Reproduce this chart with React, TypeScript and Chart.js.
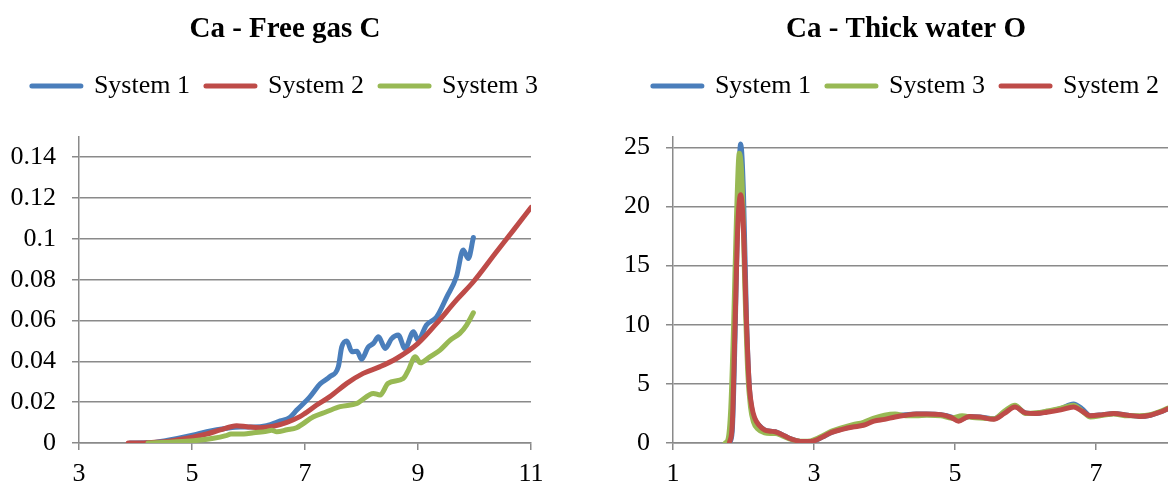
import React, { useEffect, useRef } from 'react';
import { Chart, registerables } from 'chart.js';

Chart.register(...registerables);

// ---------- Left chart: Ca - Free gas C ----------
const leftTitle = 'Ca - Free gas C';
const leftLabels = ['System 1', 'System 2', 'System 3'];
const leftXTicks = [3, 5, 7, 9, 11];
const leftYTicks = [0, 0.02, 0.04, 0.06, 0.08, 0.1, 0.12, 0.14];

const leftS1X = [3.9, 4.3, 4.55, 5.03, 5.26, 5.62, 5.85, 6.09, 6.32, 6.56, 6.73, 6.85, 7.09, 7.27, 7.44, 7.59, 7.65, 7.74, 7.83, 7.92, 8.0, 8.12, 8.21, 8.3, 8.42, 8.53, 8.65, 8.77, 8.92, 9.0, 9.15, 9.33, 9.51, 9.68, 9.8, 9.89, 9.98];
const leftS1Y = [0, 0.0002, 0.0012, 0.0039, 0.0055, 0.0072, 0.0078, 0.0078, 0.0085, 0.0108, 0.0125, 0.016, 0.0227, 0.029, 0.0325, 0.0374, 0.047, 0.05, 0.0447, 0.045, 0.041, 0.047, 0.0488, 0.052, 0.0463, 0.051, 0.0529, 0.0463, 0.0545, 0.0504, 0.0578, 0.0618, 0.0716, 0.0814, 0.0945, 0.0904, 0.1007];

const leftS2X = [3.87, 4.1, 4.25, 4.55, 4.91, 5.26, 5.5, 5.79, 5.97, 6.2, 6.44, 6.68, 6.91, 7.0, 7.2, 7.44, 7.74, 8.03, 8.33, 8.62, 9.0, 9.33, 9.68, 9.98, 10.39, 10.69, 11.0];
const leftS2Y = [0, 0, 0.0002, 0.0007, 0.0023, 0.0044, 0.0064, 0.0085, 0.008, 0.0075, 0.0082, 0.0101, 0.0129, 0.0145, 0.0185, 0.0227, 0.0292, 0.0341, 0.0374, 0.0414, 0.0488, 0.0586, 0.07, 0.079, 0.0937, 0.1043, 0.1154];

const leftS3X = [4.22, 4.67, 5.03, 5.38, 5.6, 5.69, 5.92, 6.09, 6.32, 6.41, 6.5, 6.68, 6.85, 7.15, 7.38, 7.62, 7.92, 8.21, 8.33, 8.47, 8.74, 8.83, 8.95, 9.04, 9.21, 9.39, 9.57, 9.74, 9.86, 9.98];
const leftS3Y = [0, 0.0005, 0.0011, 0.0023, 0.0036, 0.0044, 0.0044, 0.005, 0.0057, 0.0062, 0.0055, 0.0065, 0.0075, 0.0129, 0.0153, 0.0178, 0.0194, 0.0243, 0.0235, 0.0292, 0.0316, 0.0357, 0.0422, 0.0393, 0.0422, 0.0455, 0.0504, 0.0537, 0.0578, 0.0638];

// ---------- Right chart: Ca - Thick water O ----------
const rightTitle = 'Ca - Thick water O';
const rightLabels = ['System 1', 'System 3', 'System 2'];
const rightXTicks = [1, 3, 5, 7];
const rightYTicks = [0, 5, 10, 15, 20, 25];

const rightS1X = [1.8, 1.84, 1.88, 1.92, 1.96, 2.0, 2.04, 2.08, 2.12, 2.16, 2.22, 2.3, 2.38, 2.45, 2.55, 2.65, 2.75, 2.85, 2.95, 3.05, 3.15, 3.25, 3.4, 3.55, 3.7, 3.85, 4.0, 4.15, 4.3, 4.45, 4.6, 4.8, 4.95, 5.05, 5.2, 5.35, 5.55, 5.7, 5.85, 6.0, 6.15, 6.3, 6.5, 6.68, 6.8, 6.92, 7.1, 7.25, 7.45, 7.62, 7.77, 7.9, 8.02];
const rightS1Y = [0, 1.0, 9, 20, 25.3, 21, 11, 5, 2.8, 2.0, 1.5, 1.1, 1.0, 0.95, 0.7, 0.4, 0.2, 0.12, 0.12, 0.3, 0.6, 0.9, 1.2, 1.4, 1.6, 1.95, 2.2, 2.3, 2.4, 2.45, 2.45, 2.4, 2.2, 1.9, 2.25, 2.2, 2.05, 2.6, 3.1, 2.55, 2.5, 2.65, 2.9, 3.3, 2.9, 2.3, 2.4, 2.5, 2.35, 2.25, 2.35, 2.6, 2.9];

const rightS3X = [1.74, 1.78, 1.82, 1.86, 1.9, 1.94, 1.98, 2.02, 2.06, 2.1, 2.14, 2.2, 2.3, 2.38, 2.45, 2.55, 2.65, 2.75, 2.85, 2.95, 3.05, 3.15, 3.25, 3.4, 3.55, 3.7, 3.85, 4.0, 4.15, 4.3, 4.45, 4.6, 4.8, 4.95, 5.1, 5.25, 5.4, 5.55, 5.7, 5.85, 6.0, 6.15, 6.3, 6.5, 6.68, 6.8, 6.92, 7.1, 7.25, 7.45, 7.62, 7.77, 7.9, 8.02];
const rightS3Y = [0, 0.3, 3, 10, 19, 24.5, 22, 13, 6, 3, 1.8, 1.2, 0.85, 0.8, 0.8, 0.6, 0.35, 0.2, 0.15, 0.18, 0.4, 0.7, 1.0, 1.3, 1.55, 1.75, 2.1, 2.35, 2.45, 2.3, 2.3, 2.35, 2.3, 2.1, 2.3, 2.15, 2.1, 2.05, 2.7, 3.2, 2.5, 2.55, 2.7, 2.95, 3.2, 2.7, 2.2, 2.35, 2.45, 2.3, 2.3, 2.4, 2.65, 2.95];

const rightS2X = [1.8, 1.84, 1.88, 1.92, 1.96, 2.0, 2.04, 2.08, 2.12, 2.16, 2.22, 2.3, 2.38, 2.45, 2.55, 2.65, 2.75, 2.85, 2.95, 3.05, 3.15, 3.25, 3.4, 3.55, 3.7, 3.85, 4.0, 4.15, 4.3, 4.45, 4.6, 4.8, 4.95, 5.05, 5.2, 5.35, 5.55, 5.7, 5.85, 6.0, 6.15, 6.3, 6.5, 6.68, 6.8, 6.92, 7.1, 7.25, 7.45, 7.62, 7.77, 7.9, 8.02];
const rightS2Y = [0, 1.5, 10, 18.5, 21, 18, 10.5, 5, 3, 2.1, 1.5, 1.1, 1.0, 0.95, 0.7, 0.4, 0.2, 0.12, 0.12, 0.3, 0.6, 0.9, 1.15, 1.35, 1.5, 1.85, 2.0, 2.2, 2.35, 2.45, 2.45, 2.4, 2.15, 1.85, 2.25, 2.2, 2.0, 2.5, 3.05, 2.55, 2.5, 2.6, 2.8, 3.05, 2.7, 2.3, 2.4, 2.5, 2.35, 2.25, 2.35, 2.6, 2.9];

const BLUE = '#4A7EBB';
const RED = '#BE4B48';
const GREEN = '#98B954';
const GRID = '#8a8a8a';
const FONT = "'Liberation Serif', 'Times New Roman', serif";

const pts = (xs: number[], ys: number[]) => xs.map((x, i) => ({ x, y: ys[i] }));

const ds = (label: string, xs: number[], ys: number[], color: string, order: number) => ({
  label,
  data: pts(xs, ys),
  borderColor: color,
  backgroundColor: color,
  borderWidth: 5,
  pointRadius: 0,
  pointHoverRadius: 0,
  borderCapStyle: 'round',
  borderJoinStyle: 'round',
  cubicInterpolationMode: 'monotone',
  order,
});

const placeBoxes = (left: number, right: number, titleTop: number, legendTop: number) => ({
  id: 'placeBoxes',
  beforeDraw(chart: any) {
    const t = chart.titleBlock;
    if (t) {
      const h = t.height;
      t.left = left; t.right = right; t.top = titleTop; t.bottom = titleTop + h;
    }
    const l = chart.legend;
    if (l) {
      const h = l.height;
      l.left = left; l.right = right; l.top = legendTop; l.bottom = legendTop + h;
    }
  },
});

function makeOptions(p: {
  title: string; xMin: number; xMax: number; yMax: number; xTicks: number[]; yTicks: number[];
  yWidth: number; rightGap: number;
}) {
  const defGen = (Chart.defaults.plugins.legend.labels as any).generateLabels;
  const scales: any = {
    x: {
      type: 'linear',
      min: p.xMin,
      max: p.xMax,
      afterBuildTicks: (axis: any) => { axis.ticks = p.xTicks.map((v) => ({ value: v })); },
      afterFit: (axis: any) => { axis.height = 43; },
      ticks: {
        padding: 9,
        color: '#000',
        font: { family: FONT, size: 26 },
        maxRotation: 0,
        autoSkip: false,
        callback: (v: any) => String(v),
      },
      grid: { drawOnChartArea: false, drawTicks: true, tickLength: 7, color: GRID, lineWidth: 1.5 },
      border: { display: true, color: GRID, width: 1.5 },
    },
    y: {
      type: 'linear',
      position: 'left',
      min: 0,
      max: p.yMax,
      afterBuildTicks: (axis: any) => { axis.ticks = p.yTicks.map((v) => ({ value: v })); },
      afterFit: (axis: any) => { axis.width = p.yWidth; },
      ticks: {
        padding: 16,
        color: '#000',
        font: { family: FONT, size: 26 },
        callback: (v: any) => String(v),
      },
      grid: { drawTicks: true, tickLength: 7, color: GRID, lineWidth: 1.5 },
      border: { display: true, color: GRID, width: 1.5 },
    },
  };
  if (p.rightGap > 0) {
    scales.gap = {
      type: 'linear',
      position: 'right',
      display: true,
      min: 0,
      max: 1,
      afterFit: (axis: any) => { axis.width = p.rightGap; },
      ticks: { display: false },
      grid: { display: false, drawTicks: false },
      border: { display: false },
    };
  }
  return {
    responsive: false,
    animation: false,
    events: [],
    layout: { padding: { top: 50, right: 0, left: 0, bottom: 0 } },
    plugins: {
      tooltip: { enabled: false },
      title: {
        display: true,
        text: p.title,
        color: '#000',
        font: { family: FONT, size: 29, weight: 'bold' },
        padding: 0,
      },
      legend: {
        display: true,
        position: 'top',
        labels: {
          usePointStyle: true,
          pointStyle: 'line',
          pointStyleWidth: 49,
          padding: 16,
          color: '#000',
          font: { family: FONT, size: 26 },
          sort: (a: any, b: any) => a.datasetIndex - b.datasetIndex,
          generateLabels: (chart: any) =>
            defGen(chart).map((it: any) => ({ ...it, lineWidth: 5, lineCap: 'round' })),
        },
      },
    },
    scales,
  } as any;
}

export default function App() {
  const leftRef = useRef<HTMLCanvasElement>(null);
  const rightRef = useRef<HTMLCanvasElement>(null);

  useEffect(() => {
    const left = new Chart(leftRef.current as HTMLCanvasElement, {
      type: 'line',
      data: {
        datasets: [
          ds(leftLabels[0], leftS1X, leftS1Y, BLUE, 3),
          ds(leftLabels[1], leftS2X, leftS2Y, RED, 2),
          ds(leftLabels[2], leftS3X, leftS3Y, GREEN, 1),
        ] as any,
      },
      options: makeOptions({
        title: leftTitle, xMin: 3, xMax: 11, yMax: 0.15, xTicks: leftXTicks, yTicks: leftYTicks,
        yWidth: 79, rightGap: 53,
      }),
      plugins: [placeBoxes(0, 570, 12.6, 57)],
    });
    const right = new Chart(rightRef.current as HTMLCanvasElement, {
      type: 'line',
      data: {
        datasets: [
          ds(rightLabels[0], rightS1X, rightS1Y, BLUE, 3),
          ds(rightLabels[1], rightS3X, rightS3Y, GREEN, 2),
          ds(rightLabels[2], rightS2X, rightS2Y, RED, 1),
        ] as any,
      },
      options: makeOptions({
        title: rightTitle, xMin: 1, xMax: 8.02, yMax: 25.9, xTicks: rightXTicks, yTicks: rightYTicks,
        yWidth: 89, rightGap: 0,
      }),
      plugins: [placeBoxes(0, 644, 12.6, 57)],
    });
    return () => {
      left.destroy();
      right.destroy();
    };
  }, []);

  return (
    <div style={{ position: 'absolute', left: 0, top: 0, width: 1168, height: 486, background: '#fff', overflow: 'hidden' }}>
      <canvas ref={leftRef} width={584} height={486} style={{ position: 'absolute', left: 0, top: 0, width: 584, height: 486 }} />
      <canvas ref={rightRef} width={584} height={486} style={{ position: 'absolute', left: 584, top: 0, width: 584, height: 486 }} />
    </div>
  );
}
